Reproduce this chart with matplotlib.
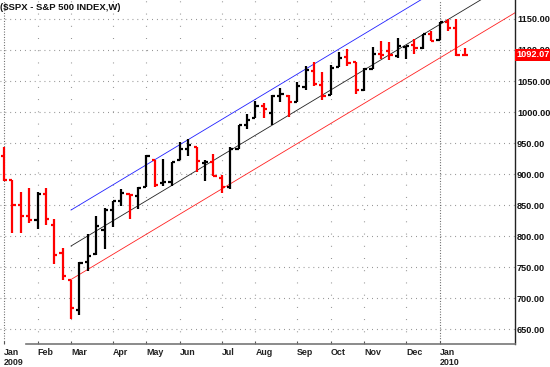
import matplotlib
matplotlib.use("Agg")
import matplotlib.pyplot as plt
import matplotlib.transforms as mtransforms

plt.rcParams['font.family'] = ['Liberation Sans', 'DejaVu Sans']

# Weekly OHLC, $SPX, week of 5 Jan 2009 .. week of 25 Jan 2010
opens = [929.2, 890.4, 849.6, 832.5, 825.4, 868.2, 818.5, 773.3, 729.6, 680.8,
         758.8, 771.0, 809.1, 842.5, 856.9, 868.3, 865.0, 879.2, 922.0, 886.1,
         887.0, 923.3, 940.1, 943.4, 918.1, 920.0, 894.3, 879.6, 940.6, 979.0,
         990.2, 1008.9, 998.2, 1026.6, 1025.2, 1016.4, 1040.5, 1066.6, 1043.7, 1026.9,
         1072.0, 1088.0, 1080.4, 1036.2, 1069.8, 1094.1, 1099.0, 1091.1, 1105.5, 1107.8,
         1103.0, 1126.5, 1116.6, 1145.0, 1136.0, 1092.4]
highs = [943.9, 890.4, 871.5, 877.9, 870.8, 877.0, 827.0, 780.1, 729.6, 758.3,
         803.0, 833.0, 845.6, 856.9, 875.6, 868.3, 878.9, 930.2, 922.0, 924.6,
         920.0, 951.7, 956.2, 943.4, 922.0, 931.9, 898.7, 944.0, 979.4, 996.7,
         1018.0, 1015.0, 1027.6, 1039.5, 1028.0, 1048.2, 1074.8, 1080.2, 1065.1, 1076.0,
         1096.6, 1101.4, 1081.0, 1071.5, 1105.4, 1113.7, 1112.4, 1119.1, 1107.1, 1117.7,
         1126.5, 1130.4, 1145.4, 1150.5, 1150.4, 1103.7]
lows = [888.3, 804.3, 805.2, 821.7, 812.0, 818.0, 754.3, 729.6, 666.8, 672.9,
        743.0, 770.0, 779.8, 814.5, 848.9, 826.8, 843.2, 878.9, 878.9, 881.0,
        880.1, 923.0, 929.0, 903.8, 888.9, 896.4, 869.3, 875.3, 940.6, 972.0,
        990.2, 990.6, 978.5, 1016.2, 992.0, 1016.4, 1036.1, 1041.2, 1020.0, 1026.9,
        1072.0, 1074.0, 1029.4, 1033.4, 1069.3, 1085.0, 1083.7, 1086.3, 1085.9, 1093.9,
        1102.0, 1114.8, 1116.6, 1131.4, 1090.2, 1089.9]
closes = [890.4, 850.1, 832.0, 825.9, 868.6, 826.8, 770.1, 735.1, 683.4, 756.6,
          768.5, 815.9, 842.5, 856.6, 869.6, 866.2, 877.5, 929.2, 882.9, 887.0,
          919.1, 940.1, 946.2, 921.2, 918.9, 896.4, 879.1, 940.4, 979.3, 987.5,
          1010.5, 1004.1, 1026.1, 1028.9, 1016.4, 1042.7, 1068.3, 1044.4, 1025.2, 1071.5,
          1087.7, 1079.6, 1036.2, 1069.3, 1093.5, 1091.4, 1091.5, 1106.0, 1106.4, 1102.5,
          1126.5, 1115.1, 1145.0, 1136.0, 1091.8, 1092.07]

last_price = 1092.07

month_idx = [0, 4, 8, 13, 17, 21, 26, 30, 35, 39, 43, 48, 52]
month_labels = ["Jan\n2009", "Feb", "Mar", "Apr", "May", "Jun", "Jul", "Aug",
                "Sep", "Oct", "Nov", "Dec", "Jan\n2010"]
year_idx = [0, 52]

price_ticks = [650, 700, 750, 800, 850, 900, 950, 1000, 1050, 1100, 1150]

# trend channel: (start index, start value, end index, end value)
trend_blue = [8, 842.0, 61, 1272.0]
trend_black = [8, 784.0, 61, 1214.0]
trend_red = [8, 730.0, 61, 1160.0]

W, H = 550, 367
fig = plt.figure(figsize=(W / 100, H / 100), dpi=100)
fig.patch.set_facecolor('white')
ax = fig.add_axes([0, 23 / H, 515 / W, 344 / H])
ax.set_xlim(-0.48, 61.0)
ax.set_ylim(626, 1180.6)

# grid
for v in price_ticks:
    ax.axhline(v, color='#8a8a8a', lw=0.8, linestyle=(0, (0.8, 3.6)), zorder=0)
for m in month_idx:
    if m in year_idx:
        continue
    ax.axvline(m, color='#8a8a8a', lw=0.8, linestyle=(0, (0.8, 10.2)), zorder=0)
for y in year_idx:
    ax.axvline(y, color='#555555', lw=0.8, linestyle=(0, (0.8, 1.6)), zorder=0)

# trend lines
for tl, c in [(trend_blue, '#2020ff'), (trend_black, '#222222'), (trend_red, '#ff2020')]:
    ax.plot([tl[0], tl[2]], [tl[1], tl[3]], color=c, lw=0.6, zorder=1)

# OHLC bars
tick = 0.38
for i in range(len(closes)):
    c = '#ff0000' if closes[i] < opens[i] else '#000000'
    ax.vlines(i, lows[i], highs[i], color=c, lw=1.6, zorder=3)
    ax.hlines(opens[i], i - tick, i, color=c, lw=1.6, zorder=3)
    ax.hlines(closes[i], i, i + tick, color=c, lw=1.6, zorder=3)

# spines
for s in ['top', 'left']:
    ax.spines[s].set_visible(False)
ax.spines['right'].set_color('#222222')
ax.spines['right'].set_linewidth(1.0)
ax.spines['bottom'].set_color('#777777')
ax.spines['bottom'].set_linewidth(1.2)
ax.spines['bottom'].set_bounds(2.6, 61.0)

# y labels on right
ax.yaxis.tick_right()
ax.set_yticks(price_ticks)
ax.set_yticklabels([f"{v:.2f}" for v in price_ticks])
ax.tick_params(axis='y', length=0, pad=1.5, labelsize=6.6, labelcolor='#111111')
for lab in ax.get_yticklabels():
    lab.set_fontweight('bold')

# x labels
ax.set_xticks(month_idx)
ax.set_xticklabels(month_labels, ha='left', linespacing=1.05)
ax.tick_params(axis='x', direction='in', length=2, color='#555555', pad=3,
               labelsize=6.4, labelcolor='#222222')
for lab in ax.get_xticklabels():
    lab.set_fontweight('bold')

# last price marker
trans = mtransforms.blended_transform_factory(ax.transAxes, ax.transData)
ax.text(1.003, last_price, f"{last_price:.2f}", transform=trans, ha='left', va='center',
        color='white', fontsize=6.6, fontweight='bold', zorder=10, clip_on=False,
        bbox=dict(facecolor='#ff0000', edgecolor='none', pad=1.0))

# title
fig.text(0.0, 1 - 3 / H, "($SPX - S&P 500 INDEX,W)", ha='left', va='top',
         fontsize=6.8, fontweight='bold', color='#111111')

fig.savefig("out.png", dpi=100, facecolor='white')
